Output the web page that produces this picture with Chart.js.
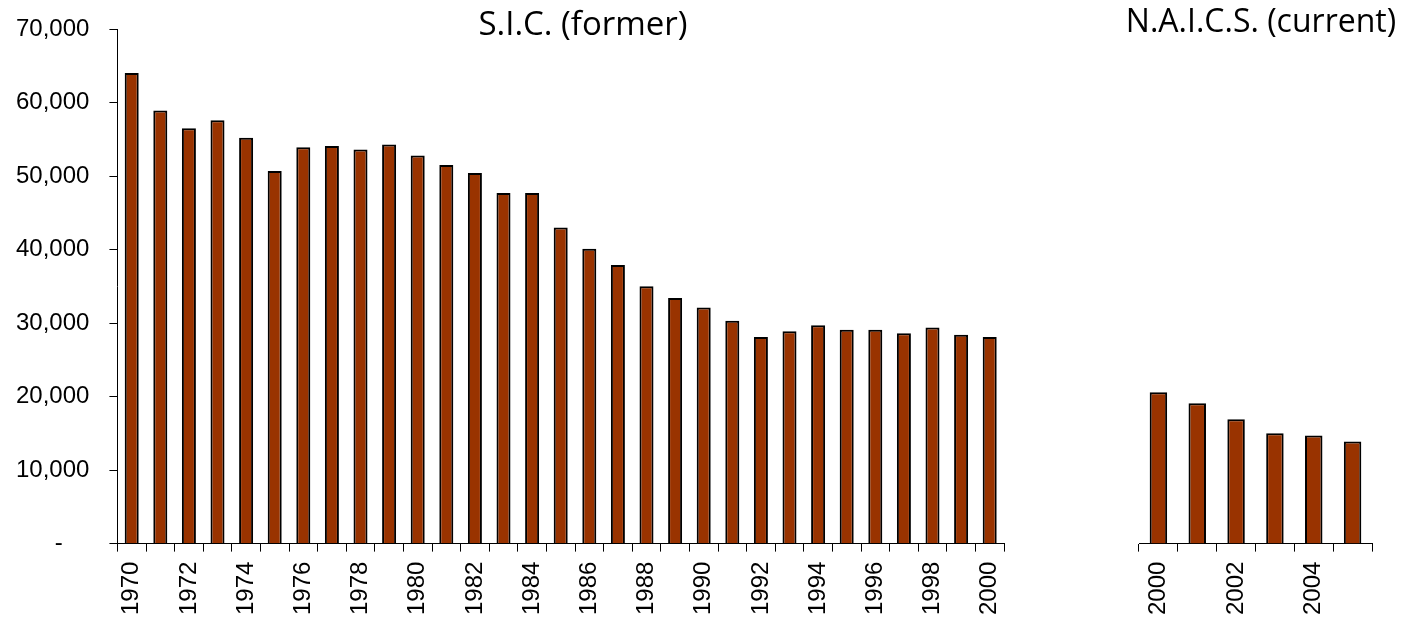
<!DOCTYPE html>
<html>
<head>
<meta charset="utf-8">
<script src="https://cdn.jsdelivr.net/npm/chart.js@4.4.1/dist/chart.umd.min.js"></script>
<style>
  body { margin: 0; background: #fff; overflow: hidden; }
  #wrap { position: relative; width: 1406px; height: 624px; }
  #leftBox { position: absolute; left: 0; top: 0; }
  #rightBox { position: absolute; left: 1080px; top: 0; }
</style>
</head>
<body>
<div id="wrap">
  <div id="leftBox"><canvas id="sicChart" width="1080" height="624"></canvas></div>
  <div id="rightBox"><canvas id="naicsChart" width="326" height="624"></canvas></div>
</div>
<script>
var sicYears = ['1970','1971','1972','1973','1974','1975','1976','1977','1978','1979',
                '1980','1981','1982','1983','1984','1985','1986','1987','1988','1989',
                '1990','1991','1992','1993','1994','1995','1996','1997','1998','1999','2000'];
var sicValues = [64000, 58900, 56500, 57600, 55200, 50700, 53900, 54100, 53600, 54300,
                 52800, 51500, 50400, 47700, 47700, 43000, 40100, 37900, 35000, 33400,
                 32100, 30300, 28100, 28900, 29700, 29100, 29100, 28600, 29400, 28400, 28100];

var naicsYears = ['2000','2001','2002','2003','2004','2005'];
var naicsValues = [20600, 19100, 16900, 15000, 14700, 13900];

var yMax = 70000;
var yStep = 10000;

var barFill = '#993300';
var axisFont = { family: '"Liberation Sans", Arial, sans-serif', size: 24 };

// draws the panel heading over the plot
var panelTitle = {
    id: 'panelTitle',
    afterDraw: function (chart, args, opts) {
        var ctx = chart.ctx;
        ctx.save();
        ctx.font = opts.font;
        ctx.fillStyle = '#000';
        ctx.textAlign = 'center';
        ctx.textBaseline = 'alphabetic';
        ctx.fillText(opts.text, opts.x, opts.y);
        ctx.restore();
    }
};

function xAxis(labels) {
    return {
        type: 'category',
        offset: true,
        grid: { offset: true, drawOnChartArea: false, drawTicks: true, tickLength: 8, color: '#000' },
        border: { display: true, color: '#000', width: 1 },
        ticks: {
            autoSkip: false,
            minRotation: 90,
            maxRotation: 90,
            padding: 10,
            color: '#000',
            font: axisFont,
            callback: function (val, i) {
                return i % 2 === 0 ? labels[i] : '';
            }
        }
    };
}

function yAxis(show) {
    return {
        display: show,
        min: 0,
        max: yMax,
        grid: { drawOnChartArea: false, drawTicks: true, tickLength: 8, color: '#000' },
        border: { display: true, color: '#000', width: 1 },
        ticks: {
            stepSize: yStep,
            padding: 20,
            color: '#000',
            font: axisFont,
            callback: function (v) {
                if (v === 0) return '-    ';
                return v.toLocaleString('en-US');
            }
        },
        // let layout.padding.top decide where the plot starts
        afterFit: function (scale) {
            scale.paddingTop = 0;
        }
    };
}

var sicCtx = document.getElementById('sicChart').getContext('2d');
var sicChart = new Chart(sicCtx, {
    type: 'bar',
    data: {
        labels: sicYears,
        datasets: [{
            data: sicValues,
            backgroundColor: barFill,
            borderColor: '#000',
            borderWidth: 2,
            categoryPercentage: 1,
            barPercentage: 0.49
        }]
    },
    options: {
        responsive: false,
        animation: false,
        layout: { padding: { left: -4, right: 76, top: 29, bottom: -1 } },
        scales: { x: xAxis(sicYears), y: yAxis(true) },
        plugins: {
            legend: { display: false },
            tooltip: { enabled: false },
            panelTitle: { text: 'S.I.C. (former)', x: 583, y: 35, font: '33px "Open Sans", sans-serif' }
        }
    },
    plugins: [panelTitle]
});

var naicsCtx = document.getElementById('naicsChart').getContext('2d');
var naicsChart = new Chart(naicsCtx, {
    type: 'bar',
    data: {
        labels: naicsYears,
        datasets: [{
            data: naicsValues,
            backgroundColor: barFill,
            borderColor: '#000',
            borderWidth: 2,
            categoryPercentage: 1,
            barPercentage: 0.45
        }]
    },
    options: {
        responsive: false,
        animation: false,
        layout: { padding: { left: 59, right: 34, top: 29, bottom: -1 } },
        scales: { x: xAxis(naicsYears), y: yAxis(false) },
        plugins: {
            legend: { display: false },
            tooltip: { enabled: false },
            panelTitle: { text: 'N.A.I.C.S. (current)', x: 181, y: 32, font: '32px "Open Sans", sans-serif' }
        }
    },
    plugins: [panelTitle]
});
</script>
</body>
</html>
